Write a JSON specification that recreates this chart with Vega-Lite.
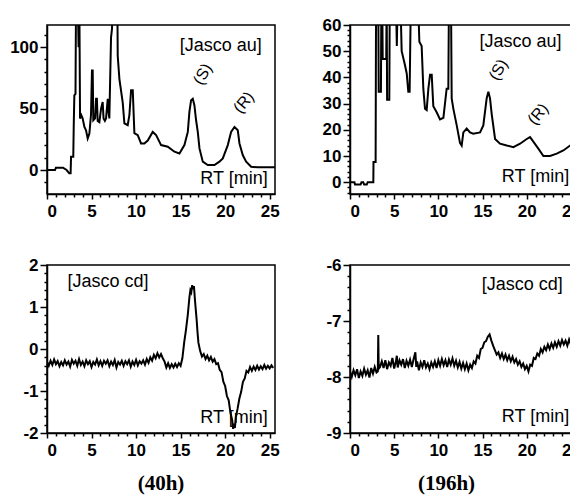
{
  "$schema": "https://vega.github.io/schema/vega-lite/v6.json",
  "background": "white",
  "padding": {"left": 8, "top": 15, "right": 0, "bottom": 0},
  "config": {
    "view": {"stroke": "black", "strokeWidth": 1.5},
    "axis": {"domainColor": "black", "domainWidth": 1.5, "tickColor": "black", "tickWidth": 1.5, "tickSize": 5, "labelColor": "black", "labelFont": "Liberation Sans", "labelFontSize": 17, "labelFontWeight": "bold", "grid": false, "title": null},
    "text": {"font": "Liberation Sans", "fontSize": 18, "color": "black"},
    "title": {"font": "Liberation Serif", "fontSize": 21, "fontWeight": "bold", "color": "black"}
  },
  "columns": 2,
  "spacing": {"row": 35, "column": 41},
  "datasets": {
    "tl": [
      {"t":0,"v":0},{"t":0.9,"v":0},{"t":1.0,"v":1.9},{"t":1.8,"v":1.9},{"t":2.2,"v":0},{"t":2.5,"v":-2.7},{"t":2.65,"v":-2.7},{"t":2.7,"v":10.8},{"t":2.95,"v":10.8},{"t":3.0,"v":35},{"t":3.07,"v":60.8},{"t":3.2,"v":62},{"t":3.26,"v":140},{"t":3.45,"v":140},{"t":3.55,"v":100},{"t":3.63,"v":140},{"t":3.71,"v":41.9},{"t":3.85,"v":44.6},{"t":4.0,"v":42},{"t":4.2,"v":35},{"t":4.38,"v":32.4},{"t":4.57,"v":25.7},{"t":4.76,"v":29.7},{"t":4.94,"v":45},{"t":5.05,"v":81},{"t":5.13,"v":81},{"t":5.2,"v":40.5},{"t":5.4,"v":42},{"t":5.51,"v":58},{"t":5.6,"v":58},{"t":5.69,"v":40},{"t":5.88,"v":39},{"t":6.07,"v":50},{"t":6.25,"v":55.4},{"t":6.35,"v":42},{"t":6.5,"v":40},{"t":6.63,"v":42},{"t":6.82,"v":58},{"t":6.9,"v":48},{"t":7.0,"v":42},{"t":7.19,"v":108},{"t":7.3,"v":115},{"t":7.38,"v":140},{"t":7.9,"v":140},{"t":7.94,"v":93},{"t":8.13,"v":74},{"t":8.5,"v":55},{"t":8.69,"v":38},{"t":9.06,"v":36.5},{"t":9.25,"v":44.6},{"t":9.44,"v":65},{"t":9.63,"v":65},{"t":9.81,"v":30},{"t":10.19,"v":28.4},{"t":10.56,"v":21.6},{"t":10.93,"v":21.6},{"t":11.31,"v":24},{"t":11.87,"v":31},{"t":12.25,"v":28.4},{"t":12.81,"v":20.3},{"t":13.56,"v":19},{"t":14.31,"v":14.9},{"t":14.87,"v":13.5},{"t":15.43,"v":20.3},{"t":15.81,"v":31},{"t":15.99,"v":47.3},{"t":16.18,"v":56.8},{"t":16.37,"v":58},{"t":16.55,"v":52.7},{"t":16.74,"v":40.5},{"t":16.93,"v":31},{"t":17.12,"v":17.6},{"t":17.49,"v":6.8},{"t":18.05,"v":4},{"t":18.8,"v":4},{"t":19.36,"v":6.8},{"t":19.74,"v":9.5},{"t":20.3,"v":20.3},{"t":20.67,"v":31},{"t":21.05,"v":35},{"t":21.2,"v":34},{"t":21.42,"v":32.4},{"t":21.61,"v":21.6},{"t":21.99,"v":12},{"t":22.36,"v":6.8},{"t":22.92,"v":2.7},{"t":23.67,"v":2.2},{"t":24.42,"v":2.2},{"t":25.6,"v":2.2}
    ],
    "tr": [
      {"t":0,"v":0},{"t":0.5,"v":0},{"t":0.57,"v":-0.9},{"t":1.2,"v":-0.9},{"t":1.3,"v":0},{"t":1.5,"v":0},{"t":1.6,"v":-0.9},{"t":1.9,"v":-0.9},{"t":2.0,"v":0},{"t":2.64,"v":0},{"t":2.66,"v":7.7},{"t":2.9,"v":7.7},{"t":2.95,"v":70},{"t":3.2,"v":70},{"t":3.25,"v":34.5},{"t":3.5,"v":34.5},{"t":3.55,"v":70},{"t":3.65,"v":70},{"t":3.7,"v":47},{"t":4.1,"v":47},{"t":4.15,"v":70},{"t":4.2,"v":31.5},{"t":4.45,"v":31.5},{"t":4.5,"v":70},{"t":5.2,"v":70},{"t":5.3,"v":52},{"t":5.4,"v":70},{"t":5.7,"v":70},{"t":5.85,"v":50},{"t":6.2,"v":45},{"t":6.42,"v":41.5},{"t":6.6,"v":34.5},{"t":6.75,"v":34.5},{"t":6.85,"v":60},{"t":6.98,"v":70},{"t":7.7,"v":70},{"t":7.85,"v":53.6},{"t":8.11,"v":52},{"t":8.3,"v":35.7},{"t":8.49,"v":28},{"t":8.68,"v":27.5},{"t":8.87,"v":35.7},{"t":9.06,"v":41},{"t":9.25,"v":41},{"t":9.43,"v":29},{"t":9.81,"v":26.7},{"t":10.19,"v":24},{"t":10.57,"v":24.6},{"t":10.94,"v":35.7},{"t":11.13,"v":35.7},{"t":11.2,"v":70},{"t":11.43,"v":70},{"t":11.51,"v":32},{"t":11.7,"v":28},{"t":12.08,"v":21.7},{"t":12.45,"v":15},{"t":12.64,"v":14},{"t":12.83,"v":19},{"t":13.21,"v":20.5},{"t":13.58,"v":19},{"t":13.96,"v":18.5},{"t":14.72,"v":19},{"t":15.09,"v":21.7},{"t":15.47,"v":32},{"t":15.66,"v":34.5},{"t":15.85,"v":32},{"t":16.04,"v":26},{"t":16.42,"v":16.5},{"t":16.98,"v":14.7},{"t":17.74,"v":14},{"t":18.49,"v":13.4},{"t":19.25,"v":14.7},{"t":20.0,"v":16.5},{"t":20.38,"v":17.2},{"t":20.75,"v":15.5},{"t":21.32,"v":12.8},{"t":21.89,"v":10},{"t":22.64,"v":10},{"t":23.4,"v":10.9},{"t":24.15,"v":12.1},{"t":24.91,"v":14},{"t":25.47,"v":14.7},{"t":26.6,"v":16.5}
    ],
    "bl": [
      {"t":0.0,"v":-0.30},{"t":0.2,"v":-0.40},{"t":0.4,"v":-0.28},{"t":0.6,"v":-0.38},{"t":0.8,"v":-0.25},{"t":1.0,"v":-0.36},{"t":1.2,"v":-0.29},{"t":1.4,"v":-0.41},{"t":1.6,"v":-0.31},{"t":1.8,"v":-0.39},{"t":2.0,"v":-0.27},{"t":2.2,"v":-0.37},{"t":2.4,"v":-0.30},{"t":2.6,"v":-0.42},{"t":2.8,"v":-0.26},{"t":3.0,"v":-0.35},{"t":3.2,"v":-0.28},{"t":3.4,"v":-0.40},{"t":3.6,"v":-0.24},{"t":3.8,"v":-0.38},{"t":4.0,"v":-0.30},{"t":4.2,"v":-0.41},{"t":4.4,"v":-0.27},{"t":4.6,"v":-0.36},{"t":4.8,"v":-0.29},{"t":5.0,"v":-0.43},{"t":5.2,"v":-0.31},{"t":5.4,"v":-0.37},{"t":5.6,"v":-0.25},{"t":5.8,"v":-0.39},{"t":6.0,"v":-0.29},{"t":6.2,"v":-0.40},{"t":6.4,"v":-0.28},{"t":6.6,"v":-0.35},{"t":6.8,"v":-0.27},{"t":7.0,"v":-0.41},{"t":7.2,"v":-0.30},{"t":7.4,"v":-0.38},{"t":7.6,"v":-0.26},{"t":7.8,"v":-0.44},{"t":8.0,"v":-0.31},{"t":8.2,"v":-0.37},{"t":8.4,"v":-0.28},{"t":8.6,"v":-0.40},{"t":8.8,"v":-0.29},{"t":9.0,"v":-0.36},{"t":9.2,"v":-0.27},{"t":9.4,"v":-0.42},{"t":9.6,"v":-0.30},{"t":9.8,"v":-0.38},{"t":10.0,"v":-0.26},{"t":10.2,"v":-0.39},{"t":10.4,"v":-0.29},{"t":10.6,"v":-0.35},{"t":10.8,"v":-0.27},{"t":11.0,"v":-0.37},{"t":11.2,"v":-0.24},{"t":11.4,"v":-0.33},{"t":11.6,"v":-0.20},{"t":11.8,"v":-0.28},{"t":12.0,"v":-0.14},{"t":12.2,"v":-0.22},{"t":12.4,"v":-0.10},{"t":12.6,"v":-0.20},{"t":12.8,"v":-0.12},{"t":13.0,"v":-0.22},{"t":13.2,"v":-0.30},{"t":13.4,"v":-0.44},{"t":13.6,"v":-0.34},{"t":13.8,"v":-0.45},{"t":14.0,"v":-0.36},{"t":14.2,"v":-0.44},{"t":14.4,"v":-0.35},{"t":14.6,"v":-0.43},{"t":14.8,"v":-0.34},{"t":15.0,"v":-0.40},{"t":15.2,"v":-0.22},{"t":15.4,"v":0.15},{"t":15.6,"v":0.45},{"t":15.8,"v":0.80},{"t":16.0,"v":1.25},{"t":16.1,"v":1.40},{"t":16.2,"v":1.35},{"t":16.3,"v":1.52},{"t":16.4,"v":1.42},{"t":16.5,"v":1.50},{"t":16.6,"v":1.20},{"t":16.7,"v":0.95},{"t":16.8,"v":0.70},{"t":16.9,"v":0.40},{"t":17.0,"v":0.15},{"t":17.2,"v":-0.05},{"t":17.4,"v":-0.18},{"t":17.6,"v":-0.12},{"t":17.8,"v":-0.24},{"t":18.0,"v":-0.16},{"t":18.2,"v":-0.27},{"t":18.4,"v":-0.19},{"t":18.6,"v":-0.30},{"t":18.8,"v":-0.24},{"t":19.0,"v":-0.36},{"t":19.2,"v":-0.34},{"t":19.4,"v":-0.50},{"t":19.6,"v":-0.55},{"t":19.8,"v":-0.78},{"t":20.0,"v":-0.88},{"t":20.2,"v":-1.12},{"t":20.4,"v":-1.22},{"t":20.6,"v":-1.52},{"t":20.8,"v":-1.70},{"t":20.9,"v":-1.90},{"t":21.0,"v":-1.78},{"t":21.1,"v":-1.88},{"t":21.2,"v":-1.62},{"t":21.4,"v":-1.42},{"t":21.6,"v":-1.18},{"t":21.8,"v":-1.02},{"t":22.0,"v":-0.78},{"t":22.2,"v":-0.70},{"t":22.4,"v":-0.52},{"t":22.6,"v":-0.56},{"t":22.8,"v":-0.43},{"t":23.0,"v":-0.52},{"t":23.2,"v":-0.42},{"t":23.4,"v":-0.50},{"t":23.6,"v":-0.40},{"t":23.8,"v":-0.49},{"t":24.0,"v":-0.41},{"t":24.2,"v":-0.48},{"t":24.4,"v":-0.38},{"t":24.6,"v":-0.47},{"t":24.8,"v":-0.40},{"t":25.0,"v":-0.46},{"t":25.2,"v":-0.39},{"t":25.4,"v":-0.45}
    ],
    "br": [
      {"t":0.0,"v":-7.90},{"t":0.2,"v":-8.00},{"t":0.4,"v":-7.88},{"t":0.6,"v":-7.97},{"t":0.8,"v":-7.86},{"t":1.0,"v":-8.02},{"t":1.2,"v":-7.90},{"t":1.4,"v":-7.98},{"t":1.6,"v":-7.85},{"t":1.8,"v":-7.96},{"t":2.0,"v":-7.88},{"t":2.2,"v":-8.01},{"t":2.4,"v":-7.84},{"t":2.6,"v":-7.94},{"t":2.8,"v":-7.82},{"t":3.0,"v":-7.92},{"t":3.15,"v":-7.90},{"t":3.2,"v":-7.25},{"t":3.25,"v":-7.85},{"t":3.4,"v":-7.82},{"t":3.6,"v":-7.72},{"t":3.8,"v":-7.84},{"t":4.0,"v":-7.70},{"t":4.2,"v":-7.86},{"t":4.4,"v":-7.74},{"t":4.6,"v":-7.80},{"t":4.8,"v":-7.66},{"t":5.0,"v":-7.85},{"t":5.2,"v":-7.72},{"t":5.3,"v":-7.62},{"t":5.4,"v":-7.83},{"t":5.6,"v":-7.70},{"t":5.8,"v":-7.78},{"t":6.0,"v":-7.68},{"t":6.2,"v":-7.84},{"t":6.4,"v":-7.71},{"t":6.6,"v":-7.80},{"t":6.8,"v":-7.69},{"t":7.0,"v":-7.82},{"t":7.2,"v":-7.68},{"t":7.4,"v":-7.56},{"t":7.5,"v":-7.82},{"t":7.6,"v":-7.72},{"t":7.8,"v":-7.88},{"t":8.0,"v":-7.74},{"t":8.2,"v":-7.82},{"t":8.4,"v":-7.70},{"t":8.6,"v":-7.83},{"t":8.8,"v":-7.76},{"t":9.0,"v":-7.86},{"t":9.2,"v":-7.74},{"t":9.4,"v":-7.82},{"t":9.6,"v":-7.72},{"t":9.8,"v":-7.84},{"t":10.0,"v":-7.70},{"t":10.2,"v":-7.80},{"t":10.4,"v":-7.68},{"t":10.6,"v":-7.79},{"t":10.8,"v":-7.70},{"t":11.0,"v":-7.82},{"t":11.2,"v":-7.69},{"t":11.4,"v":-7.78},{"t":11.6,"v":-7.67},{"t":11.8,"v":-7.80},{"t":12.0,"v":-7.71},{"t":12.2,"v":-7.83},{"t":12.4,"v":-7.73},{"t":12.6,"v":-7.85},{"t":12.8,"v":-7.75},{"t":13.0,"v":-7.86},{"t":13.2,"v":-7.76},{"t":13.4,"v":-7.88},{"t":13.6,"v":-7.78},{"t":13.8,"v":-7.84},{"t":14.0,"v":-7.72},{"t":14.2,"v":-7.76},{"t":14.4,"v":-7.62},{"t":14.6,"v":-7.66},{"t":14.8,"v":-7.50},{"t":15.0,"v":-7.48},{"t":15.2,"v":-7.38},{"t":15.4,"v":-7.36},{"t":15.6,"v":-7.28},{"t":15.8,"v":-7.24},{"t":16.0,"v":-7.35},{"t":16.2,"v":-7.44},{"t":16.4,"v":-7.52},{"t":16.6,"v":-7.60},{"t":16.8,"v":-7.56},{"t":17.0,"v":-7.66},{"t":17.2,"v":-7.58},{"t":17.4,"v":-7.68},{"t":17.6,"v":-7.60},{"t":17.8,"v":-7.70},{"t":18.0,"v":-7.62},{"t":18.2,"v":-7.72},{"t":18.4,"v":-7.64},{"t":18.6,"v":-7.74},{"t":18.8,"v":-7.68},{"t":19.0,"v":-7.78},{"t":19.2,"v":-7.72},{"t":19.4,"v":-7.82},{"t":19.6,"v":-7.76},{"t":19.8,"v":-7.86},{"t":20.0,"v":-7.80},{"t":20.2,"v":-7.90},{"t":20.4,"v":-7.78},{"t":20.6,"v":-7.80},{"t":20.8,"v":-7.66},{"t":21.0,"v":-7.68},{"t":21.2,"v":-7.58},{"t":21.4,"v":-7.62},{"t":21.6,"v":-7.50},{"t":21.8,"v":-7.56},{"t":22.0,"v":-7.46},{"t":22.2,"v":-7.52},{"t":22.4,"v":-7.42},{"t":22.6,"v":-7.50},{"t":22.8,"v":-7.40},{"t":23.0,"v":-7.48},{"t":23.2,"v":-7.38},{"t":23.4,"v":-7.46},{"t":23.6,"v":-7.36},{"t":23.8,"v":-7.44},{"t":24.0,"v":-7.34},{"t":24.2,"v":-7.42},{"t":24.4,"v":-7.35},{"t":24.6,"v":-7.44},{"t":24.8,"v":-7.33},{"t":25.0,"v":-7.42},{"t":25.2,"v":-7.36},{"t":25.4,"v":-7.40},{"t":25.6,"v":-7.34},{"t":25.8,"v":-7.41},{"t":26.0,"v":-7.35},{"t":26.2,"v":-7.42},{"t":26.4,"v":-7.36},{"t":26.6,"v":-7.40}
    ],
    "one": [{"k": 1}]
  },
  "concat": [
    {
      "width": 228, "height": 169,
      "resolve": {"axis": {"x": "independent", "y": "independent"}},
      "layer": [
        {
          "data": {"name": "tl"},
          "mark": {"type": "line", "color": "black", "strokeWidth": 2, "clip": true},
          "encoding": {
            "x": {"field": "t", "type": "quantitative", "scale": {"domain": [0, 25.6], "nice": false, "zero": false},
                  "axis": {"orient": "bottom", "values": [0,5,10,15,20,25], "labelPadding": 4}},
            "y": {"field": "v", "type": "quantitative", "scale": {"domain": [-19.5, 118], "nice": false, "zero": false},
                  "axis": {"orient": "left", "values": [0,50,100], "tickSize": 7, "labelPadding": 2}}
          }
        },
        {
          "data": {"name": "one"},
          "mark": {"type": "text"},
          "encoding": {"x": {"datum": 19.5, "type": "quantitative", "axis": {"orient": "bottom", "values": [1,2,3,4,6,7,8,9,11,12,13,14,16,17,18,19,21,22,23,24], "labels": false, "domain": false, "tickSize": 3}},
                       "y": {"datum": 101, "type": "quantitative", "axis": {"orient": "left", "values": [-10,10,20,30,40,60,70,80,90,110], "labels": false, "domain": false, "tickSize": 3}},
                       "text": {"value": "[Jasco au]"}}
        },
        {
          "data": {"name": "one"},
          "mark": {"type": "text"},
          "encoding": {"x": {"datum": 21.0, "type": "quantitative", "axis": null}, "y": {"datum": -7.3, "type": "quantitative", "axis": null}, "text": {"value": "RT [min]"}}
        },
        {
          "data": {"name": "one"},
          "mark": {"type": "text", "fontSize": 16, "angle": 300},
          "encoding": {"x": {"datum": 17.5, "type": "quantitative", "axis": null}, "y": {"datum": 78, "type": "quantitative", "axis": null}, "text": {"value": "(S)"}}
        },
        {
          "data": {"name": "one"},
          "mark": {"type": "text", "fontSize": 16, "angle": 310},
          "encoding": {"x": {"datum": 22.1, "type": "quantitative", "axis": null}, "y": {"datum": 55, "type": "quantitative", "axis": null}, "text": {"value": "(R)"}}
        }
      ]
    },
    {
      "width": 235, "height": 169,
      "resolve": {"axis": {"x": "independent", "y": "independent"}},
      "layer": [
        {
          "data": {"name": "tr"},
          "mark": {"type": "line", "color": "black", "strokeWidth": 2, "clip": true},
          "encoding": {
            "x": {"field": "t", "type": "quantitative", "scale": {"domain": [0, 26.6], "nice": false, "zero": false},
                  "axis": {"orient": "bottom", "values": [0,5,10,15,20,25], "labelPadding": 4}},
            "y": {"field": "v", "type": "quantitative", "scale": {"domain": [-4.5, 60], "nice": false, "zero": false},
                  "axis": {"orient": "left", "values": [0,10,20,30,40,50,60], "tickSize": 7, "labelPadding": 2}}
          }
        },
        {
          "data": {"name": "one"},
          "mark": {"type": "text"},
          "encoding": {"x": {"datum": 19.3, "type": "quantitative", "axis": {"orient": "bottom", "values": [1,2,3,4,6,7,8,9,11,12,13,14,16,17,18,19,21,22,23,24,26], "labels": false, "domain": false, "tickSize": 3}},
                       "y": {"datum": 53.6, "type": "quantitative", "axis": {"orient": "left", "values": [-4,-2,2,4,6,8,12,14,16,18,22,24,26,28,32,34,36,38,42,44,46,48,52,54,56,58], "labels": false, "domain": false, "tickSize": 3}},
                       "text": {"value": "[Jasco au]"}}
        },
        {
          "data": {"name": "one"},
          "mark": {"type": "text"},
          "encoding": {"x": {"datum": 21.0, "type": "quantitative", "axis": null}, "y": {"datum": 1.9, "type": "quantitative", "axis": null}, "text": {"value": "RT [min]"}}
        },
        {
          "data": {"name": "one"},
          "mark": {"type": "text", "fontSize": 16, "angle": 300},
          "encoding": {"x": {"datum": 16.8, "type": "quantitative", "axis": null}, "y": {"datum": 42.9, "type": "quantitative", "axis": null}, "text": {"value": "(S)"}}
        },
        {
          "data": {"name": "one"},
          "mark": {"type": "text", "fontSize": 16, "angle": 310},
          "encoding": {"x": {"datum": 21.3, "type": "quantitative", "axis": null}, "y": {"datum": 26, "type": "quantitative", "axis": null}, "text": {"value": "(R)"}}
        }
      ]
    },
    {
      "width": 228, "height": 168,
      "title": {"text": "(40h)", "orient": "bottom", "anchor": "middle", "offset": 15},
      "resolve": {"axis": {"x": "independent", "y": "independent"}},
      "layer": [
        {
          "data": {"name": "bl"},
          "mark": {"type": "line", "color": "black", "strokeWidth": 2, "clip": true},
          "encoding": {
            "x": {"field": "t", "type": "quantitative", "scale": {"domain": [0, 25.6], "nice": false, "zero": false},
                  "axis": {"orient": "bottom", "values": [0,5,10,15,20,25], "labelPadding": 4}},
            "y": {"field": "v", "type": "quantitative", "scale": {"domain": [-2, 2], "nice": false, "zero": false},
                  "axis": {"orient": "left", "values": [-2,-1,0,1,2], "labelExpr": "'' + datum.value", "tickSize": 7, "labelPadding": 2}}
          }
        },
        {
          "data": {"name": "one"},
          "mark": {"type": "text"},
          "encoding": {"x": {"datum": 6.85, "type": "quantitative", "axis": {"orient": "bottom", "values": [1,2,3,4,6,7,8,9,11,12,13,14,16,17,18,19,21,22,23,24], "labels": false, "domain": false, "tickSize": 3}},
                       "y": {"datum": 1.6, "type": "quantitative", "axis": {"orient": "left", "values": [-1.8,-1.6,-1.4,-1.2,-0.8,-0.6,-0.4,-0.2,0.2,0.4,0.6,0.8,1.2,1.4,1.6,1.8], "labels": false, "domain": false, "tickSize": 3}},
                       "text": {"value": "[Jasco cd]"}}
        },
        {
          "data": {"name": "one"},
          "mark": {"type": "text"},
          "encoding": {"x": {"datum": 21.0, "type": "quantitative", "axis": null}, "y": {"datum": -1.64, "type": "quantitative", "axis": null}, "text": {"value": "RT [min]"}}
        }
      ]
    },
    {
      "width": 235, "height": 168,
      "title": {"text": "(196h)", "orient": "bottom", "anchor": "start", "offset": 15, "dx": 92},
      "resolve": {"axis": {"x": "independent", "y": "independent"}},
      "layer": [
        {
          "data": {"name": "br"},
          "mark": {"type": "line", "color": "black", "strokeWidth": 2, "clip": true},
          "encoding": {
            "x": {"field": "t", "type": "quantitative", "scale": {"domain": [0, 26.6], "nice": false, "zero": false},
                  "axis": {"orient": "bottom", "values": [0,5,10,15,20,25], "labelPadding": 4}},
            "y": {"field": "v", "type": "quantitative", "scale": {"domain": [-9, -6], "nice": false, "zero": false},
                  "axis": {"orient": "left", "values": [-9,-8,-7,-6], "labelExpr": "'' + datum.value", "tickSize": 7, "labelPadding": 2}}
          }
        },
        {
          "data": {"name": "one"},
          "mark": {"type": "text"},
          "encoding": {"x": {"datum": 19.5, "type": "quantitative", "axis": {"orient": "bottom", "values": [1,2,3,4,6,7,8,9,11,12,13,14,16,17,18,19,21,22,23,24,26], "labels": false, "domain": false, "tickSize": 3}},
                       "y": {"datum": -6.36, "type": "quantitative", "axis": {"orient": "left", "values": [-8.8,-8.6,-8.4,-8.2,-7.8,-7.6,-7.4,-7.2,-6.8,-6.6,-6.4,-6.2], "labels": false, "domain": false, "tickSize": 3}},
                       "text": {"value": "[Jasco cd]"}}
        },
        {
          "data": {"name": "one"},
          "mark": {"type": "text"},
          "encoding": {"x": {"datum": 21.0, "type": "quantitative", "axis": null}, "y": {"datum": -8.71, "type": "quantitative", "axis": null}, "text": {"value": "RT [min]"}}
        }
      ]
    }
  ]
}
